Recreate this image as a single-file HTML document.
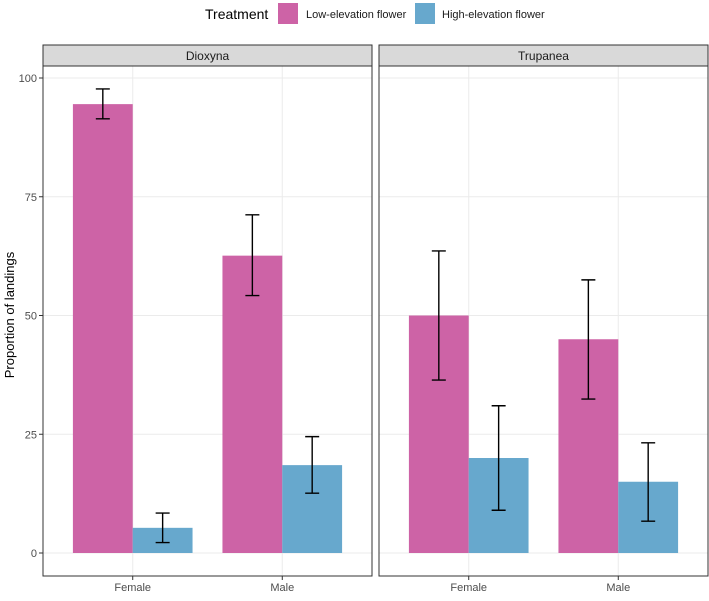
<!DOCTYPE html>
<html><head><meta charset="utf-8"><style>
body{margin:0;background:#fff;}
text{font-family:"Liberation Sans",sans-serif;}
</style></head><body>
<svg id="chart" width="709" height="596" xmlns="http://www.w3.org/2000/svg">
<g>
<text x="205" y="19" font-size="14" fill="#000">Treatment</text>
<rect x="278" y="3" width="20" height="21" fill="#CD63A6"/>
<text x="306" y="18" font-size="11" fill="#1a1a1a">Low-elevation flower</text>
<rect x="415" y="3" width="20" height="21" fill="#67A8CD"/>
<text x="442" y="18" font-size="11" fill="#1a1a1a">High-elevation flower</text>
</g>
<text transform="translate(14,315) rotate(-90)" text-anchor="middle" font-size="13" fill="#000">Proportion of landings</text>
<g id="panels"></g>
</svg>
<script>
const panelNames = ["Dioxyna","Trupanea"];
const categories = ["Female","Male"];
const yTicks = [0,25,50,75,100];
const lowVals = [[94.5,62.6],[50,45]];
const lowLo = [[91.4,54.2],[36.4,32.4]];
const lowHi = [[97.7,71.2],[63.6,57.5]];
const highVals = [[5.3,18.5],[20,15]];
const highLo = [[2.2,12.6],[9,6.7]];
const highHi = [[8.4,24.5],[31,23.2]];
{
const NS="http://www.w3.org/2000/svg";
const g=document.getElementById('panels');
function mk(tag,attrs,parent){const e=document.createElementNS(NS,tag);for(const k in attrs)e.setAttribute(k,attrs[k]);(parent||g).appendChild(e);return e;}
const panelX=[43,379], panelW=329, plotTop=66, plotBottom=576;
function yS(v){return 553-v*4.75;}
function xc(p,i){return panelX[p]+(0.6+i)*(panelW/2.2);}
const unit=panelW/2.2, bw=unit*0.4;
const lowColor="#CD63A6", highColor="#67A8CD";
panelNames.forEach((name,p)=>{
  const x0=panelX[p];
  const pg=mk('g',{});
  
  
  const s=mk('rect',{x:x0,y:45,width:panelW,height:21,fill:'#d9d9d9',stroke:'#333','stroke-width':1},pg);
  
  
  const st=mk('text',{x:x0+panelW/2,y:60,'text-anchor':'middle','font-size':12,fill:'#1a1a1a'},pg);
  st.textContent=name;
  
  
  yTicks.forEach(t=>{
    const l=mk('line',{x1:x0,x2:x0+panelW,y1:yS(t),y2:yS(t),stroke:'#ebebeb','stroke-width':1},pg);
    
    
    if(p===0){
      const tk=mk('line',{x1:x0-4,x2:x0,y1:yS(t),y2:yS(t),stroke:'#333'},pg);
      
      
      const tl=mk('text',{x:x0-6,y:yS(t)+4,'text-anchor':'end','font-size':11,fill:'#4d4d4d'},pg);
      tl.textContent=t;
      
      
    }
  });
  categories.forEach((c,i)=>{
    const cx=xc(p,i);
    const gl=mk('line',{x1:cx,x2:cx,y1:plotTop,y2:plotBottom,stroke:'#ebebeb'},pg);
    
    
    const tk=mk('line',{x1:cx,x2:cx,y1:plotBottom,y2:plotBottom+4,stroke:'#333'},pg);
    
    
    const tl=mk('text',{x:cx,y:plotBottom+15,'text-anchor':'middle','font-size':11,fill:'#4d4d4d'},pg);
    tl.textContent=c;
    
    
  });
  categories.forEach((c,i)=>{
    const cx=xc(p,i);
    [[lowVals,lowLo,lowHi,lowColor,cx-bw,'low'],[highVals,highLo,highHi,highColor,cx,'high']].forEach(([V,L,H,col,bx,key])=>{
      const v=V[p][i];
      const b=mk('rect',{x:bx,y:yS(v),width:bw,height:yS(0)-yS(v),fill:col},pg);
      
      
      const mx=bx+bw/2, lo=yS(L[p][i]), hi=yS(H[p][i]);
      const eb=mk('path',{d:`M${mx-7},${hi}H${mx+7}M${mx},${hi}V${lo}M${mx-7},${lo}H${mx+7}`,stroke:'#000','stroke-width':1.4,fill:'none'},pg);
      
      
    });
  });
  const br=mk('rect',{x:x0,y:plotTop,width:panelW,height:plotBottom-plotTop,fill:'none',stroke:'#333','stroke-width':1},pg);
  
  
});
}
</script>
</body></html>
